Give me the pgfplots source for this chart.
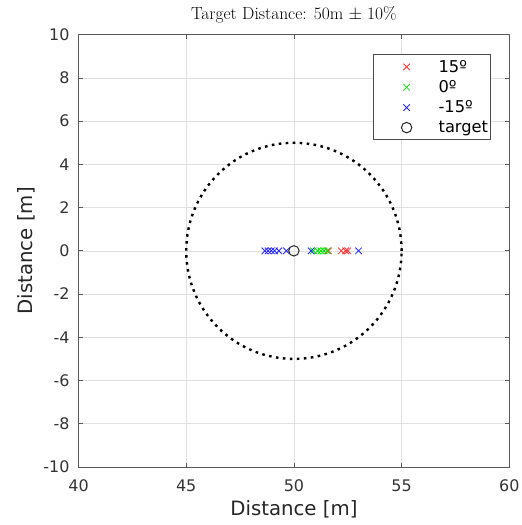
\documentclass[border=0pt]{standalone}
\usepackage{pgfplots}
\pgfplotsset{compat=1.18}
\usepackage{fontspec}
\newfontfamily\dejavu{DejaVu Sans}

% shot positions along the range axis (lateral offset is zero)
\pgfplotstableread{
x y
51.6 0
52.2 0
52.4 0
52.5 0
}\redshots
\pgfplotstableread{
x y
50.9 0
51.1 0
51.25 0
51.4 0
51.55 0
}\greenshots
\pgfplotstableread{
x y
48.65 0
48.8 0
48.95 0
49.1 0
49.3 0
49.65 0
50.8 0
53.0 0
}\blueshots

\pgfplotsset{
  shot/.style={only marks, line width=0.85bp,
    legend image code/.code={%
      \path[draw=none, fill=none] (0bp,-2bp) rectangle (63bp,2bp);
      \draw[only marks] plot coordinates {(33bp,0bp)};}},
}

\begin{document}
\begin{tikzpicture}
\begin{axis}[
  scale only axis,
  width=430.5bp, height=432bp,
  xmin=40, xmax=60, ymin=-10, ymax=10,
  xtick={40,45,...,60}, ytick={-10,-8,...,10},
  grid=major,
  major grid style={draw=black!12, line width=0.6bp},
  axis line style={draw=black!65, line width=0.7bp},
  tick style={draw=black!65, line width=0.7bp},
  tick align=inside,
  major tick length=4bp,
  ticklabel style={font=\dejavu\fontsize{16}{19}\selectfont, text=black!80},
  xticklabel shift=9.5bp,
  yticklabel shift=5.5bp,
  /pgf/number format/assume math mode=true,
  xlabel={Distance [m]}, ylabel={Distance [m]},
  label style={font=\dejavu\fontsize{19.8}{23}\selectfont, text=black!85},
  xlabel style={yshift=-1.5bp},
  ylabel style={yshift=2bp},
  title={Target Distance: 50m $\pm$ 10\%},
  title style={font=\fontsize{17.5}{20}\selectfont, yshift=2bp},
  legend style={at={(0.956,0.9546)}, anchor=north east,
    font=\dejavu\fontsize{16.3}{19}\selectfont, draw=black!70, line width=0.6bp,
    row sep=2.8bp, inner xsep=0bp, inner ysep=3.5bp,
    nodes={inner xsep=2bp},
    cells={anchor=west}},
  legend cell align=left,
]
\draw[black, line width=2.4bp, dash pattern=on 2.6bp off 4.4bp]
  (axis cs:50,0) ellipse [x radius=5, y radius=5];
\addplot[shot, mark=x, mark size=4.6bp, draw=red!80]
  table[x=x,y=y] {\redshots};
\addlegendentry{15º}
\addplot[shot, mark=x, mark size=4.6bp, draw=green!85!black!60!green]
  table[x=x,y=y] {\greenshots};
\addlegendentry{0º}
\addplot[shot, mark=x, mark size=4.6bp, draw=blue!85]
  table[x=x,y=y] {\blueshots};
\addlegendentry{-15º}
\addplot[shot, mark=o, mark size=5.2bp, draw=black!85, line width=1bp]
  coordinates {(50,0)};
\addlegendentry{target}
\end{axis}
\pgfresetboundingbox
\path ([xshift=-78.5bp,yshift=-58bp]current axis.south west)
  rectangle ([xshift=12bp,yshift=34.7bp]current axis.north east);
\end{tikzpicture}
\end{document}
